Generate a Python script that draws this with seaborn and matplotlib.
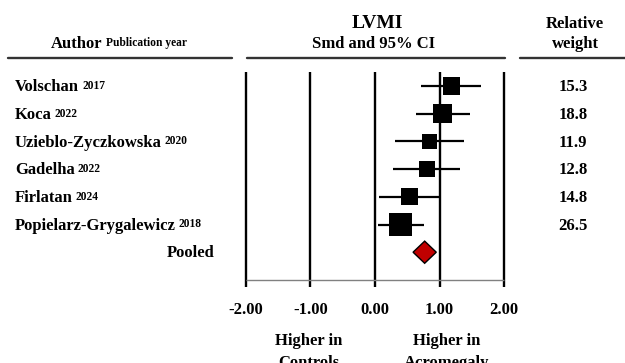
import numpy as np
import matplotlib
matplotlib.use("Agg")
import matplotlib.pyplot as plt
import matplotlib.transforms as mtransforms
from matplotlib.patches import Polygon
import seaborn as sns

# study data
authors = ["Volschan", "Koca", "Uzieblo-Zyczkowska", "Gadelha", "Firlatan",
           "Popielarz-Grygalewicz"]
years = ["2017", "2022", "2020", "2022", "2024", "2018"]
smd = [1.19, 1.05, 0.84, 0.80, 0.54, 0.40]
ci_low = [0.71, 0.63, 0.31, 0.28, 0.06, 0.05]
ci_high = [1.65, 1.48, 1.38, 1.32, 1.00, 0.76]
weights = [15.3, 18.8, 11.9, 12.8, 14.8, 26.5]

pooled_smd = 0.77
pooled_low = 0.59
pooled_high = 0.95

xticks = [-2.0, -1.0, 0.0, 1.0, 2.0]

sns.set_theme(style="white")
plt.rcParams["font.family"] = ["Liberation Serif", "DejaVu Serif"]
plt.rcParams["font.weight"] = "bold"
plt.rcParams["text.color"] = "black"
plt.rcParams["xtick.color"] = "black"

W, H = 625, 363
fig = plt.figure(figsize=(W / 100, H / 100), dpi=100)

FS = 12
SUP = 8.3


def fx(px):
    return px / W


def fy(py):
    return 1 - py / H


# forest panel: x=-2 at 246px, x=2 at 504px; rows every 27.7px from y=86
ax = fig.add_axes([fx(236), fy(287), 278 / W, 215 / H])
ax.set_xlim(-2.155, 2.155)
ax.set_ylim(7.256, -0.505)
for s in ax.spines.values():
    s.set_visible(False)

rows = np.arange(len(authors))

for xv in xticks:
    ax.axvline(xv, color="black", lw=1.7, zorder=1)
ax.hlines(len(authors) + 1, xticks[0], xticks[-1], color="#808080", lw=1.0, zorder=1)

ax.hlines(rows, ci_low, ci_high, color="black", lw=1.6, zorder=2)
sns.scatterplot(x=smd, y=rows, size=weights, sizes=(0, 307.8), size_norm=(0, 30),
                marker="s", color="black", edgecolor="black", linewidth=0,
                legend=False, ax=ax, zorder=3)

py = len(authors)
dh = 0.4
diamond = Polygon([[pooled_low, py], [pooled_smd, py - dh], [pooled_high, py],
                   [pooled_smd, py + dh]], closed=True, facecolor="#C00000",
                  edgecolor="black", lw=1.0, zorder=4)
ax.add_patch(diamond)

ax.set_xticks(xticks)
ax.set_xticklabels([f"{v:.2f}" for v in xticks], fontsize=FS, fontweight="bold")
ax.tick_params(axis="x", length=0, pad=11)
ax.set_yticks([])
ax.set_xlabel("")
ax.set_ylabel("")

# row texts, aligned to the row positions of the panel
row_tr = mtransforms.blended_transform_factory(fig.transFigure, ax.transData)
row_tr = mtransforms.offset_copy(row_tr, fig=fig, y=-5.2, units="dots")

for i, (name, yr, w) in enumerate(zip(authors, years, weights)):
    t = ax.text(fx(15), i, name, transform=row_tr, fontsize=FS, fontweight="bold",
                ha="left", va="baseline")
    ax.annotate(yr, xy=(1, 0), xycoords=t, xytext=(2.2, 4.5), textcoords="offset points",
                fontsize=SUP, fontweight="bold", ha="left", va="baseline")
    ax.text(fx(573), i, f"{w:.1f}", transform=row_tr, fontsize=FS, fontweight="bold",
            ha="center", va="baseline")
ax.text(fx(215), len(authors), "Pooled", transform=row_tr, fontsize=FS,
        fontweight="bold", ha="right", va="baseline")

# header
ta = fig.text(fx(51), fy(48.5), "Author", fontsize=FS, fontweight="bold",
              ha="left", va="baseline")
ax.annotate("Publication year", xy=(1, 0), xycoords=ta, xytext=(2.5, 5.0),
            textcoords="offset points", fontsize=SUP, fontweight="bold",
            ha="left", va="baseline", annotation_clip=False)
fig.text(fx(377), fy(28), "LVMI", fontsize=14, fontweight="bold", ha="center",
         va="baseline")
fig.text(fx(374), fy(48.5), "Smd and 95% CI", fontsize=FS, fontweight="bold",
         ha="center", va="baseline")
fig.text(fx(575), fy(28.5), "Relative", fontsize=FS, fontweight="bold", ha="center",
         va="baseline")
fig.text(fx(575), fy(48), "weight", fontsize=FS, fontweight="bold", ha="center",
         va="baseline")
for x0, x1 in [(8, 232), (247, 505), (520, 625)]:
    fig.add_artist(plt.Line2D([fx(x0), fx(x1)], [fy(57.5), fy(57.5)], color="#333333",
                              lw=1.7, transform=fig.transFigure))

# direction labels (second line runs off the bottom edge as in the original)
for xc, lines in [(309, ("Higher in", "Controls")), (447, ("Higher in", "Acromegaly"))]:
    fig.text(fx(xc), fy(345), lines[0], fontsize=FS, fontweight="bold",
             ha="center", va="baseline")
    fig.text(fx(xc), fy(367), lines[1], fontsize=FS, fontweight="bold",
             ha="center", va="baseline")

fig.savefig("out.png", dpi=100)
